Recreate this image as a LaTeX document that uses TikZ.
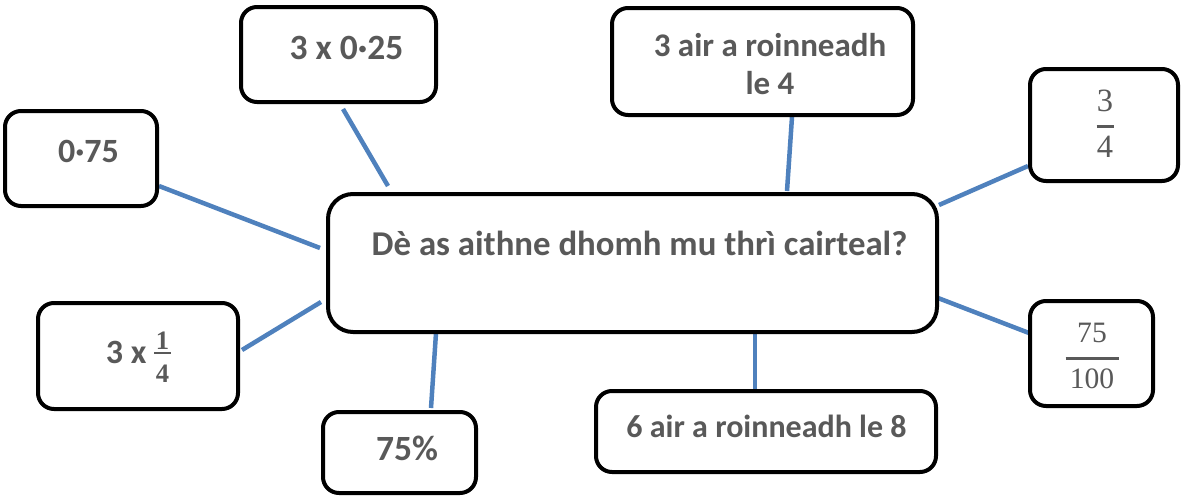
\documentclass[tikz,border=0pt]{standalone}
\usepackage{fontspec}
\setmainfont{Carlito}
\newfontfamily\frfont{Liberation Serif}
\usetikzlibrary{backgrounds,calc}
\definecolor{txtgray}{HTML}{595959}
\definecolor{connblue}{HTML}{4F81BD}
% stacked fraction: #1 num, #2 den, #3 bar width, #4 gap above bar, #5 gap below bar
\newcommand\stk[5]{\vbox{\offinterlineskip\halign{\hfil##\hfil\cr
  #1\cr\noalign{\kern#4}\rule{#3}{2.5pt}\cr\noalign{\kern#5}#2\cr}}}
\begin{document}
\begin{tikzpicture}[x=1pt,y=-1pt,
  box/.style={draw=black, line width=4pt, rounded corners=16pt, fill=white,
    inner sep=0pt, outer sep=0pt},
  bigbox/.style={box, rounded corners=25pt},
  lbl/.style={anchor=base, inner sep=0pt, text=txtgray,
    font=\fontsize{#1}{38}\selectfont\bfseries},
  lbl/.default=33,
  fr/.style={anchor=base, inner sep=0pt, text=txtgray,
    font=\fontsize{#1}{40}\selectfont\frfont},
  conn/.style={draw=connblue, line width=4.5pt}]
\useasboundingbox (0,0) rectangle (1183,498);

% boxes
\node[bigbox, minimum width=609pt, minimum height=138pt] (M) at (632.5,263) {};
\node[box, minimum width=195pt, minimum height=95pt]  (A) at (338.5,54.5) {};
\node[box, minimum width=152pt, minimum height=95pt]  (B) at (81,158.5) {};
\node[box, minimum width=200pt, minimum height=106pt] (C) at (138,356) {};
\node[box, minimum width=153pt, minimum height=81pt]  (D) at (399.5,452.5) {};
\node[box, minimum width=340pt, minimum height=81pt]  (E) at (766,431.5) {};
\node[box, minimum width=123pt, minimum height=105pt] (F) at (1091.5,353.5) {};
\node[box, minimum width=148pt, minimum height=112pt] (G) at (1104,125) {};
\node[box, minimum width=301pt, minimum height=107pt] (H) at (762.5,61.5) {};

% texts
\node[lbl=34.8] (tM) at (639.5,255) {Dè as aithne dhomh mu thrì cairteal?};
\node[lbl=35.5] (tA) at (346.5,59) {3 x 0·25};
\node[lbl=34] (tB) at (88.5,162) {0·75};
\node[lbl=34] (tC) at (138.5,363) {3 x \raisebox{-19pt}{\fontsize{26.6}{30}\selectfont\frfont\bfseries\stk{1}{4}{17pt}{2.5pt}{10pt}}};
\node[lbl=35.5] (tD) at (407,460) {75\%};
\node[lbl=32] (tE) at (766.5,437) {6 air a roinneadh le 8};
\node[lbl=33, align=center] (tH) at (770,94) {3 air a roinneadh\\le 4};
\node[fr=32.5] (tG) at (1105,157) {\stk{3}{4}{17pt}{12.8pt}{8pt}};
\node[fr=29.6] (tF) at (1092,388) {\stk{75}{100}{53pt}{13.8pt}{8.8pt}};

% connectors
\begin{scope}[on background layer]
\draw[conn] ($(B.south east)+(2,-20)$) -- ($(M.north west)+(-8,54)$);
\draw[conn] ($(A.south west)+(102,7)$) -- ($(M.north west)+(60,-8)$);
\draw[conn] ($(C.north east)+(4,47)$) -- ($(M.north west)+(-7,108)$);
\draw[conn] ($(D.north west)+(108,-4)$) -- ($(M.south west)+(108,1)$);
\draw[conn] ($(H.south west)+(180,2)$) -- ($(M.north west)+(459,-3)$);
\draw[conn] ($(G.south west)+(-2,-15)$) -- ($(M.north east)+(2,11)$);
\draw[conn] ($(F.north west)+(-1,32)$) -- ($(M.north east)+(1,104)$);
\draw[conn] ($(E.north west)+(159,-1)$) -- ($(M.south west)+(427,0)$);
\end{scope}
\end{tikzpicture}
\end{document}
